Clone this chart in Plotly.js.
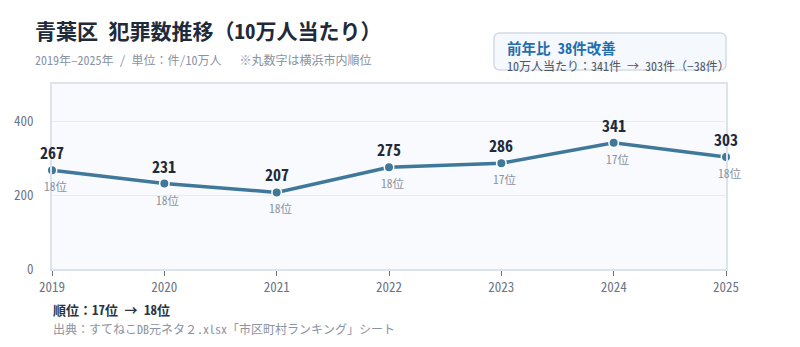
<!DOCTYPE html>
<html><head><meta charset="utf-8">
<script src="https://cdn.plot.ly/plotly-3.0.1.min.js"></script>
<style>html,body{margin:0;padding:0;background:#fff;}#c{width:800px;height:347px;}</style>
</head><body><div id="c"></div>
<script>
const years = [2019, 2020, 2021, 2022, 2023, 2024, 2025];
const values = [267, 231, 207, 275, 286, 341, 303];
const ranks = ["18位", "18位", "18位", "18位", "17位", "17位", "18位"];
const yTicks = [0, 200, 400];

const F = '"Noto Sans Mono CJK JP", "Noto Sans CJK JP", monospace';
const lineColor = '#3f7898';

const annotations = [];
years.forEach((yr, i) => {
  annotations.push({x: yr, y: values[i], xref: 'x', yref: 'y', text: String(values[i]),
    showarrow: false, yshift: 18, borderpad: 0, font: {family: F, size: 16, color: '#1f2a3a', weight: 700}});
  annotations.push({x: yr, y: values[i], xref: 'x', yref: 'y', text: ranks[i],
    showarrow: false, yshift: -16, xshift: 4, borderpad: 0, font: {family: F, size: 11.5, color: '#8a93a3'}});
});
annotations.push(
  {xref: 'paper', yref: 'paper', x: -0.026, y: 1, xanchor: 'left', yanchor: 'middle', yshift: 54, borderpad: 0,
   text: '<b>青葉区 犯罪数推移（10万人当たり）</b>', showarrow: false,
   font: {family: F, size: 21, color: '#1f2a3a'}},
  {xref: 'paper', yref: 'paper', x: -0.026, y: 1, xanchor: 'left', yanchor: 'middle', yshift: 25, borderpad: 0,
   text: '2019年–2025年 / 単位：件/10万人　 ※丸数字は横浜市内順位', showarrow: false,
   font: {family: F, size: 12, color: '#8a93a3'}},
  {xref: 'paper', yref: 'paper', x: 0, y: 0, xanchor: 'left', yanchor: 'middle', yshift: -40.5, borderpad: 0,
   text: '<b>順位：17位 → 18位</b>', showarrow: false,
   font: {family: F, size: 13, color: '#2a3442'}},
  {xref: 'paper', yref: 'paper', x: 0, y: 0, xanchor: 'left', yanchor: 'middle', yshift: -59, borderpad: 0,
   text: '出典：すてねこDB元ネタ２.xlsx「市区町村ランキング」シート', showarrow: false,
   font: {family: F, size: 12, color: '#8a93a3'}},
  {xref: 'paper', yref: 'paper', x: 0.674, y: 1, xanchor: 'left', yanchor: 'middle', yshift: 37, borderpad: 0,
   text: '<b>前年比 38件改善</b>', showarrow: false,
   font: {family: F, size: 14.5, color: '#1d6fae'}},
  {xref: 'paper', yref: 'paper', x: 0.674, y: 1, xanchor: 'left', yanchor: 'middle', yshift: 18.5, borderpad: 0,
   text: '10万人当たり：341件 → 303件（−38件）', showarrow: false,
   font: {family: F, size: 12, color: '#4a5566'}}
);

const data = [{
  x: years, y: values, type: 'scatter', mode: 'lines+markers',
  line: {color: lineColor, width: 3.5},
  marker: {color: lineColor, size: 9.5, line: {color: '#ffffff', width: 1.5}},
  hoverinfo: 'skip', cliponaxis: false
}];

// rounded box (paper coordinates)
const bx0 = 0.6558, bx1 = 1.0, by0 = 1.0757, by1 = 1.2757, rx = 0.0089, ry = 0.0324;
const boxPath = `M ${bx0 + rx} ${by1} L ${bx1 - rx} ${by1} Q ${bx1} ${by1} ${bx1} ${by1 - ry} ` +
  `L ${bx1} ${by0 + ry} Q ${bx1} ${by0} ${bx1 - rx} ${by0} L ${bx0 + rx} ${by0} Q ${bx0} ${by0} ${bx0} ${by0 + ry} ` +
  `L ${bx0} ${by1 - ry} Q ${bx0} ${by1} ${bx0 + rx} ${by1} Z`;

const layout = {
  width: 800, height: 347,
  margin: {l: 52, r: 74, t: 84, b: 78},
  paper_bgcolor: '#ffffff', plot_bgcolor: '#f8fafd',
  showlegend: false,
  font: {family: F, size: 13, color: '#6b7485'},
  xaxis: {range: [2019, 2025], tickvals: years, ticktext: years.map(String),
    showgrid: false, zeroline: false, showline: true, linecolor: '#dde3ec', linewidth: 2, mirror: true,
    ticks: 'outside', ticklen: 5, tickcolor: '#6b7485', tickwidth: 1,
    tickfont: {family: F, size: 13, color: '#6b7485'}, fixedrange: true},
  yaxis: {range: [0, 500], tickvals: yTicks, ticktext: yTicks.map(String),
    showgrid: true, gridcolor: '#e8ecf2', gridwidth: 1, zeroline: false,
    showline: true, linecolor: '#dde3ec', linewidth: 2, mirror: true,
    ticks: '', ticklabelstandoff: 14,
    tickfont: {family: F, size: 13, color: '#6b7485'}, fixedrange: true},
  shapes: [{type: 'path', xref: 'paper', yref: 'paper', path: boxPath,
    line: {color: '#d3dbe6', width: 1.5}, fillcolor: '#f5f8fc', layer: 'below'}],
  annotations: annotations
};

Plotly.newPlot('c', data, layout, {displayModeBar: false, staticPlot: true});
</script></body></html>
